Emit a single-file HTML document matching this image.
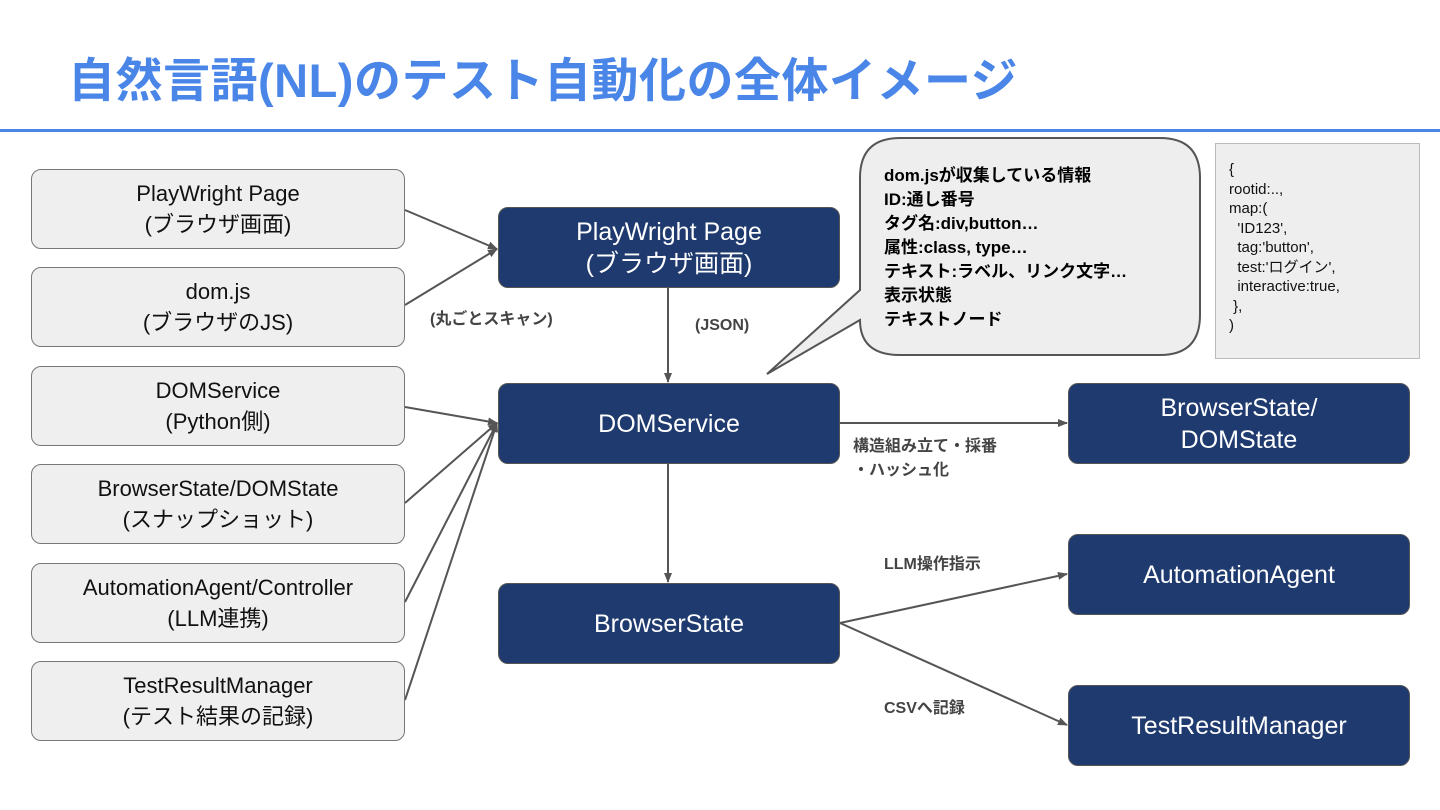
<!DOCTYPE html>
<html><head><meta charset="utf-8"><style>
body{margin:0;width:1440px;height:810px;background:#fff;position:relative;overflow:hidden;font-family:"Liberation Sans","Noto Sans CJK JP",sans-serif}
.t{position:absolute;left:68px;top:42px;font-size:47px;font-weight:bold;color:#4a86e8;white-space:nowrap;letter-spacing:0.5px}
.hr{position:absolute;left:0;top:129px;width:1440px;height:3px;background:#4a86e8}
.lb{position:absolute;left:31px;width:372px;height:78px;background:#efefef;border:1.5px solid #777;border-radius:10px;display:flex;align-items:center;justify-content:center;text-align:center;font-size:22px;line-height:31px;color:#111}
.db{position:absolute;width:340px;height:79px;background:#1f3a6e;border:1.5px solid #555;border-radius:10px;display:flex;align-items:center;justify-content:center;text-align:center;font-size:25px;line-height:32px;color:#fff}
.lab{position:absolute;font-size:16px;font-weight:bold;color:#444;white-space:nowrap}
.call{position:absolute;left:884px;top:164px;font-size:17px;font-weight:bold;line-height:24px;color:#000;white-space:nowrap}
.json{position:absolute;left:1215px;top:143px;width:205px;height:216px;background:#eee;border:1.5px solid #bbb;box-sizing:border-box;padding:16px 0 0 13px;font-size:15px;line-height:19.5px;color:#111;white-space:pre}
svg{position:absolute;left:0;top:0}
</style></head><body>
<div class="t">自然言語(NL)のテスト自動化の全体イメージ</div>
<div class="hr"></div>
<svg width="1440" height="810">
<defs><marker id="a" markerWidth="10" markerHeight="10" refX="9" refY="5" orient="auto" markerUnits="userSpaceOnUse"><path d="M0,1 L10,5 L0,9 Z" fill="#555"/></marker></defs>
<g stroke="#555" stroke-width="2" fill="none">
<line x1="405" y1="210" x2="497" y2="249" marker-end="url(#a)"/>
<line x1="405" y1="305" x2="497" y2="249" marker-end="url(#a)"/>
<line x1="405" y1="407" x2="497" y2="423" marker-end="url(#a)"/>
<line x1="405" y1="503" x2="497" y2="423" marker-end="url(#a)"/>
<line x1="405" y1="602" x2="497" y2="423" marker-end="url(#a)"/>
<line x1="405" y1="700" x2="497" y2="423" marker-end="url(#a)"/>
<line x1="668" y1="288" x2="668" y2="382" marker-end="url(#a)"/>
<line x1="668" y1="464" x2="668" y2="582" marker-end="url(#a)"/>
<line x1="840" y1="423" x2="1067" y2="423" marker-end="url(#a)"/>
<line x1="840" y1="623" x2="1067" y2="574" marker-end="url(#a)"/>
<line x1="840" y1="623" x2="1067" y2="725" marker-end="url(#a)"/>
</g>
<path d="M900,138 H1160 Q1200,138 1200,178 V315 Q1200,355 1160,355 H900 Q860,355 860,320 L767,374 L860,290 V178 Q860,138 900,138 Z" fill="#eee" stroke="#555" stroke-width="2"/>
</svg>
<div class="lb" style="top:169px">PlayWright Page<br>(ブラウザ画面)</div>
<div class="lb" style="top:267px">dom.js<br>(ブラウザのJS)</div>
<div class="lb" style="top:366px">DOMService<br>(Python側)</div>
<div class="lb" style="top:464px">BrowserState/DOMState<br>(スナップショット)</div>
<div class="lb" style="top:563px">AutomationAgent/Controller<br>(LLM連携)</div>
<div class="lb" style="top:661px">TestResultManager<br>(テスト結果の記録)</div>
<div class="db" style="left:498px;top:207px">PlayWright Page<br>(ブラウザ画面)</div>
<div class="db" style="left:498px;top:383px">DOMService</div>
<div class="db" style="left:498px;top:583px">BrowserState</div>
<div class="db" style="left:1068px;top:383px">BrowserState/<br>DOMState</div>
<div class="db" style="left:1068px;top:534px">AutomationAgent</div>
<div class="db" style="left:1068px;top:685px">TestResultManager</div>
<div class="lab" style="left:430px;top:305px">(丸ごとスキャン)</div>
<div class="lab" style="left:695px;top:317px">(JSON)</div>
<div class="lab" style="left:853px;top:432px">構造組み立て・採番</div>
<div class="lab" style="left:853px;top:456px">・ハッシュ化</div>
<div class="lab" style="left:884px;top:550px">LLM操作指示</div>
<div class="lab" style="left:884px;top:694px">CSVへ記録</div>
<div class="call">dom.jsが収集している情報<br>ID:通し番号<br>タグ名:div,button…<br>属性:class, type…<br>テキスト:ラベル、リンク文字…<br>表示状態<br>テキストノード</div>
<div class="json">{
rootid:..,
map:(
  'ID123',
  tag:'button',
  test:'ログイン',
  interactive:true,
 },
)</div>
</body></html>
